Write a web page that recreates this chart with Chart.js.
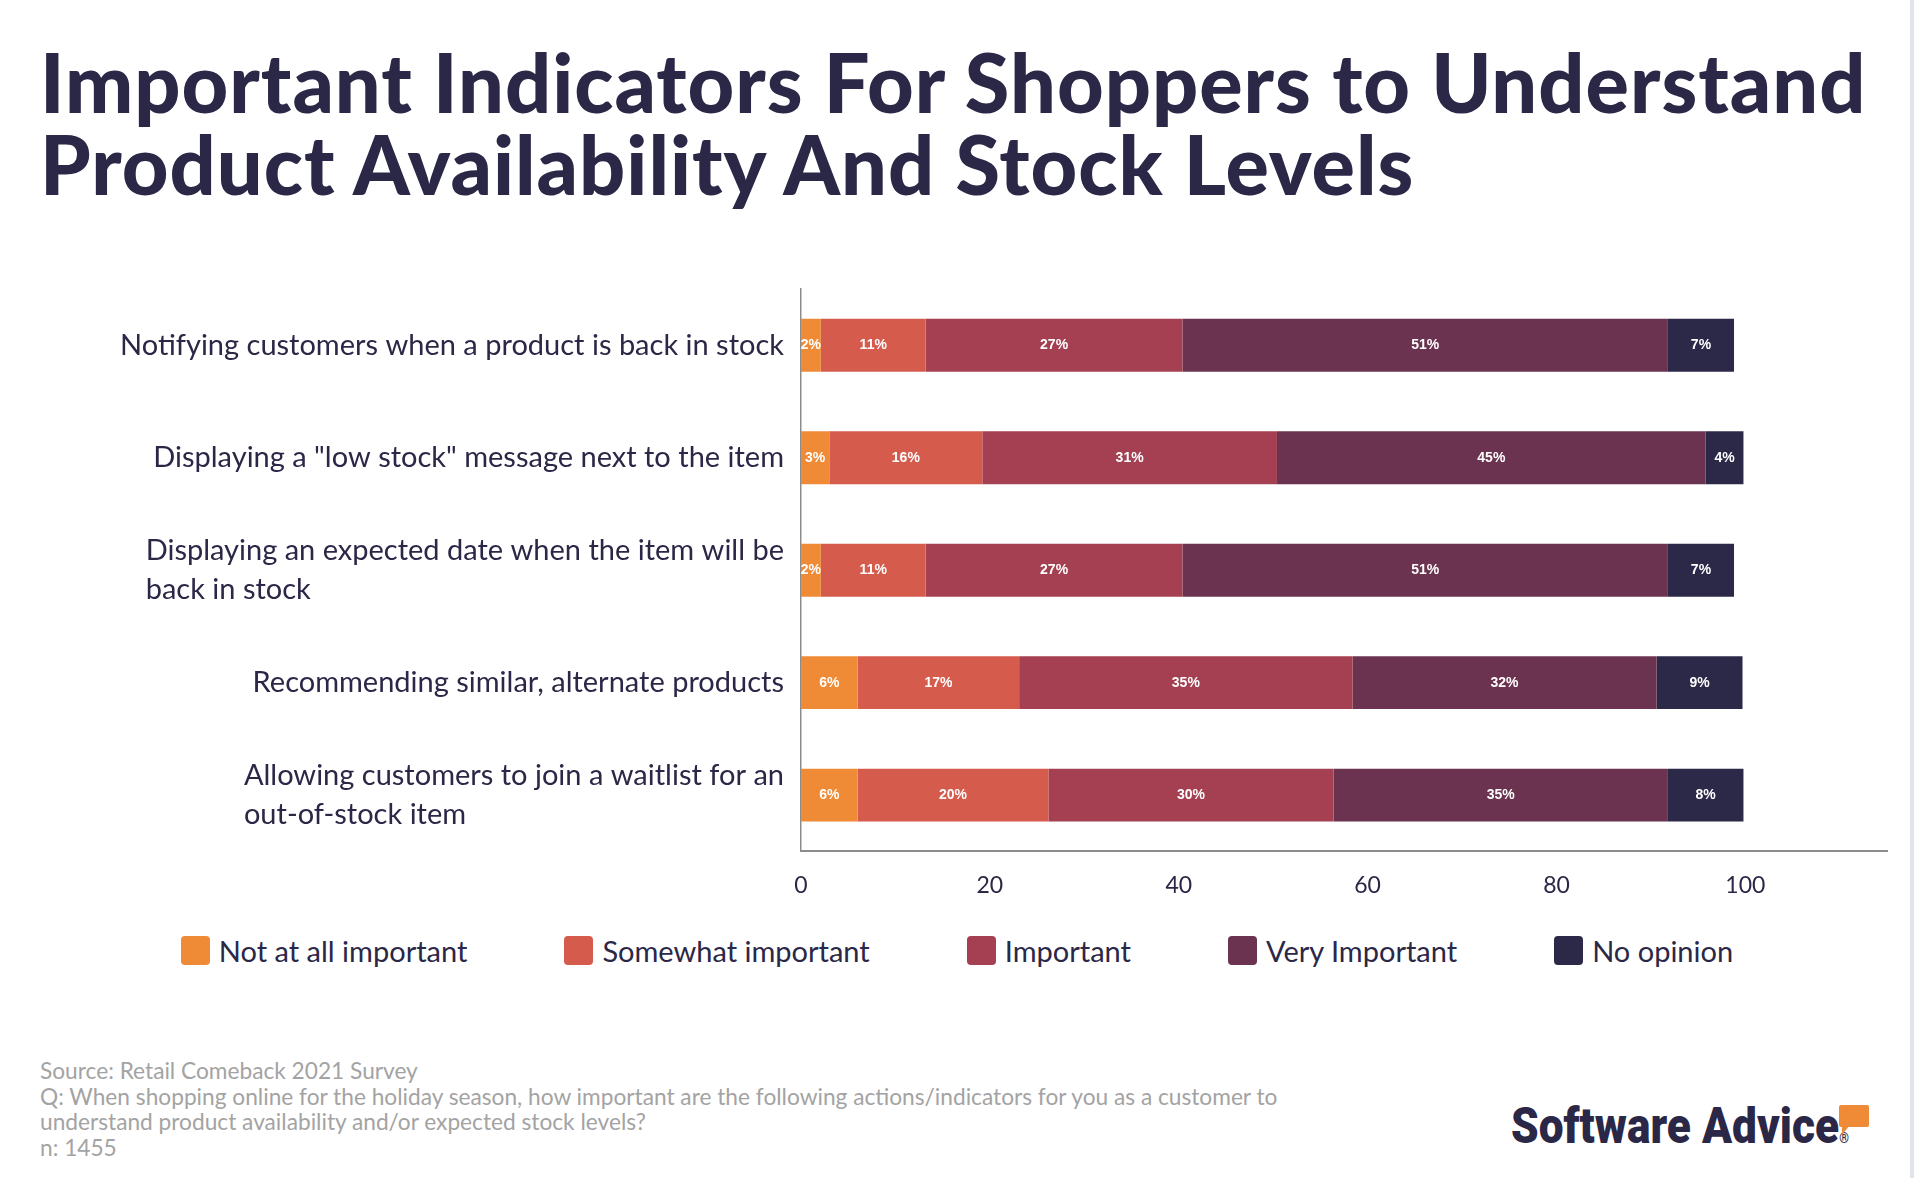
<!DOCTYPE html>
<html>
<head>
<meta charset="utf-8">
<script src="https://cdn.jsdelivr.net/npm/chart.js@4.4.1/dist/chart.umd.min.js"></script>
<style>
  html, body { margin: 0; padding: 0; background: #fff; }
  body { width: 1914px; height: 1178px; position: relative; overflow: hidden; font-family: Lato, "Noto Sans", sans-serif; color: #2b2747; }
  #edge { position: absolute; right: 0; top: 0; width: 4px; height: 100%; background: #e1e4e8; }
  h1 { position: absolute; left: 40px; top: 41px; margin: 0; font-weight: 900; font-size: 81px; line-height: 82px; letter-spacing: 1px; white-space: nowrap; }
  #chartBox { position: absolute; left: 0; top: 280px; width: 1914px; height: 640px; }
  #legend { position: absolute; left: 0; top: 935px; width: 1914px; height: 30px; display: flex; justify-content: center; align-items: center; gap: 97px; font-size: 29px; }
  #legend .item { display: flex; align-items: center; white-space: nowrap; }
  #legend .box { width: 29px; height: 29px; border-radius: 4px; margin-right: 9px; }
  #notes { position: absolute; left: 40px; top: 1058px; font-size: 22.7px; line-height: 25.6px; color: #a3a3a3; }
  #logo { position: absolute; left: 1511px; top: 1098px; font-family: Roboto, sans-serif; font-weight: 900; font-size: 50px; line-height: 56px; color: #2b2747; white-space: nowrap; transform: scaleX(0.885); transform-origin: left top; }
  #logo sup { font-size: 14px; vertical-align: baseline; }
  #bubble { position: absolute; left: 1839px; top: 1105px; width: 30px; height: 22px; background: #ef8a36; border-radius: 2px; }
  #bubble:after { content: ""; position: absolute; left: 3px; top: 21px; border-left: 7px solid #ef8a36; border-bottom: 9px solid transparent; }
</style>
</head>
<body>
<div id="edge"></div>
<h1>Important Indicators For Shoppers to Understand<br>Product Availability And Stock Levels</h1>
<div id="chartBox"><canvas id="myChart"></canvas></div>
<div id="legend"></div>
<div id="notes">Source: Retail Comeback 2021 Survey<br>Q: When shopping online for the holiday season, how important are the following actions/indicators for you as a customer to<br>understand product availability and/or expected stock levels?<br>n: 1455</div>
<div id="logo">Software Advice<sup>®</sup></div>
<div id="bubble"></div>
<script>
const categories = [
  'Notifying customers when a product is back in stock',
  'Displaying a "low stock" message next to the item',
  ['Displaying an expected date when the item will be', 'back in stock'],
  'Recommending similar, alternate products',
  ['Allowing customers to join a waitlist for an', 'out-of-stock item']
];
const seriesNames = ['Not at all important', 'Somewhat important', 'Important', 'Very Important', 'No opinion'];
const notAtAll  = [2.1, 3.0, 2.1, 6.0, 6.0];
const somewhat  = [11.1, 16.2, 11.1, 17.1, 20.2];
const important = [27.2, 31.2, 27.2, 35.3, 30.2];
const very      = [51.4, 45.4, 51.4, 32.2, 35.4];
const noOpinion = [7.0, 4.0, 7.0, 9.1, 8.0];
const xTicks = [0, 20, 40, 60, 80, 100];

const colors = ['#ef8a36', '#d55b4c', '#a44051', '#6b334f', '#2c2848'];
const series = [notAtAll, somewhat, important, very, noOpinion];
const textColor = '#2b2747';

// white % labels in the middle of each segment
const barLabels = {
  id: 'barLabels',
  afterDatasetsDraw(chart) {
    const ctx = chart.ctx;
    ctx.save();
    ctx.font = 'bold 14px "Liberation Sans", Arial, sans-serif';
    ctx.fillStyle = '#fff';
    ctx.textAlign = 'center';
    ctx.textBaseline = 'middle';
    chart.data.datasets.forEach((ds, i) => {
      chart.getDatasetMeta(i).data.forEach((bar, j) => {
        const c = bar.getCenterPoint();
        ctx.fillText(Math.round(ds.data[j]) + '%', c.x, c.y);
      });
    });
    ctx.restore();
  }
};

// category labels: block right aligned to the axis, lines left aligned
const catLabels = {
  id: 'catLabels',
  afterDraw(chart) {
    const ctx = chart.ctx;
    const yScale = chart.scales.y;
    const right = chart.chartArea.left - 17;
    ctx.save();
    ctx.font = '29px Lato, sans-serif';
    ctx.fillStyle = textColor;
    ctx.textAlign = 'left';
    ctx.textBaseline = 'middle';
    chart.data.labels.forEach((lab, i) => {
      const lines = Array.isArray(lab) ? lab : [lab];
      const w = Math.max(...lines.map(l => ctx.measureText(l).width));
      const cy = yScale.getPixelForValue(i);
      lines.forEach((l, k) => {
        ctx.fillText(l, right - w, cy + (k - (lines.length - 1) / 2) * 39);
      });
    });
    ctx.restore();
  }
};

const ctx = document.getElementById('myChart').getContext('2d');
const myChart = new Chart(ctx, {
  type: 'bar',
  data: {
    labels: categories,
    datasets: series.map((d, i) => ({
      label: seriesNames[i],
      data: d,
      backgroundColor: colors[i],
      borderWidth: 0,
      barPercentage: 0.47,
      categoryPercentage: 1
    }))
  },
  options: {
    indexAxis: 'y',
    responsive: true,
    maintainAspectRatio: false,
    animation: false,
    layout: { padding: { left: 0, right: 27, top: 9, bottom: 1 } },
    plugins: {
      legend: { display: false },
      tooltip: { enabled: false }
    },
    scales: {
      x: {
        stacked: true,
        min: 0,
        max: 115,
        grid: { display: false, drawTicks: false },
        border: { display: true, color: '#8c8c8c', width: 2 },
        afterBuildTicks: s => { s.ticks = xTicks.map(v => ({ value: v })); },
        ticks: { autoSkip: false, maxRotation: 0, padding: 20, color: textColor, font: { family: 'Lato', size: 23 } }
      },
      y: {
        stacked: true,
        grid: { display: false, drawTicks: false },
        border: { display: true, color: '#8c8c8c', width: 1.5 },
        ticks: { display: false },
        afterFit: s => { s.width = 801; }
      }
    }
  },
  plugins: [barLabels, catLabels]
});

// html legend built from the chart's own legend items
const legendEl = document.getElementById('legend');
Chart.defaults.plugins.legend.labels.generateLabels(myChart).forEach(item => {
  const el = document.createElement('div');
  el.className = 'item';
  const box = document.createElement('span');
  box.className = 'box';
  box.style.background = item.fillStyle;
  const txt = document.createElement('span');
  txt.textContent = item.text;
  el.appendChild(box);
  el.appendChild(txt);
  legendEl.appendChild(el);
});
</script>
</body>
</html>
